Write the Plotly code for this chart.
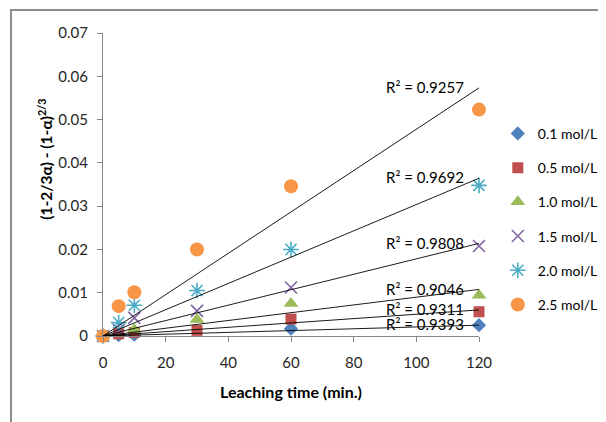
import numpy as np
import plotly.graph_objects as go

time_min = [0, 5, 10, 30, 60, 120]
series_names = ["0.1 mol/L", "0.5 mol/L", "1.0 mol/L", "1.5 mol/L", "2.0 mol/L", "2.5 mol/L"]
c01 = [0, 0.0002, 0.0003, -0.0003, 0.0017, 0.0025]
c05 = [0, 0.0005, 0.0008, 0.0013, 0.0039, 0.0056]
c10 = [0, -0.0002, 0.0015, 0.0038, 0.0075, 0.0094]
c15 = [0, 0.0014, 0.0042, 0.0058, 0.0112, 0.0208]
c20 = [0, 0.0031, 0.0071, 0.0105, 0.0200, 0.0348]
c25 = [0, 0.0069, 0.0101, 0.0200, 0.0346, 0.0523]
r2_labels = ["0.9393", "0.9311", "0.9046", "0.9808", "0.9692", "0.9257"]

all_series = [c01, c05, c10, c15, c20, c25]

styles = [
    dict(symbol="diamond", size=11, color="#4F81BD"),
    dict(symbol="square", size=11, color="#C0504D"),
    dict(symbol="triangle-up", size=13, color="#9BBB59"),
    dict(symbol="x-thin-open", size=12, color="#8064A2", line=dict(color="#8064A2", width=1.6)),
    dict(symbol="asterisk-open", size=13, color="#4BACC6", line=dict(color="#4BACC6", width=1.6)),
    dict(symbol="circle", size=14, color="#F79646"),
]

FONT = "Lato"
fig = go.Figure()
x = np.array(time_min, dtype=float)
for i, (name, ys, st) in enumerate(zip(series_names, all_series, styles)):
    fig.add_trace(go.Scatter(
        x=time_min, y=ys, mode="markers", name=name, marker=st,
        cliponaxis=False, legendgroup=f"g{i}",
    ))

annotations = []
for i, ys in enumerate(all_series):
    y = np.array(ys, dtype=float)
    slope = float((x * y).sum() / (x * x).sum())
    fig.add_trace(go.Scatter(
        x=[0, 120], y=[0, slope * 120], mode="lines",
        line=dict(color="#000000", width=0.9), showlegend=False,
        hoverinfo="skip", cliponaxis=False,
    ))
    annotations.append(dict(
        x=116, y=slope * 120 + 0.0002, xref="x", yref="y",
        text=f"R² = {r2_labels[i]}", showarrow=False,
        xanchor="right", yanchor="middle",
        font=dict(family=FONT, size=15, color="#000000"),
    ))

annotations.append(dict(
    x=-0.155, y=0.584, xref="paper", yref="paper", textangle=-90,
    text="<b>(1-2/3α) - (1-α)<sup>2/3</sup></b>", showarrow=False,
    xanchor="center", yanchor="middle",
    font=dict(family=FONT, size=15.5, color="#000000"),
))
annotations.append(dict(
    x=0.4995, y=-0.184, xref="paper", yref="paper",
    text="<b>Leaching time (min.)</b>", showarrow=False,
    xanchor="center", yanchor="middle",
    font=dict(family=FONT, size=16, color="#000000"),
))

fig.update_layout(
    width=606, height=422, autosize=False,
    margin=dict(l=95, r=135, t=25, b=94, autoexpand=False),
    paper_bgcolor="white", plot_bgcolor="white",
    font=dict(family=FONT, size=15, color="#262626"),
    annotations=annotations,
    legend=dict(x=1.05, xanchor="left", y=0.72, yanchor="top",
                font=dict(family=FONT, size=14, color="#000000"),
                tracegroupgap=13, itemwidth=30, bgcolor="rgba(0,0,0,0)"),
    shapes=[dict(type="rect", xref="paper", yref="paper",
                 x0=-0.2447, x1=2, y0=-1, y1=1.0759,
                 line=dict(color="#8C8C8C", width=2), fillcolor="rgba(0,0,0,0)")],
    xaxis=dict(range=[0, 120], dtick=20, showgrid=False, zeroline=False,
               showline=True, linecolor="#868686", linewidth=1,
               ticks="outside", ticklen=5, tickcolor="#868686",
               ticklabelstandoff=8,
               tickfont=dict(family=FONT, size=15, color="#262626")),
    yaxis=dict(range=[0, 0.07], dtick=0.01, showgrid=False, zeroline=False,
               showline=True, linecolor="#868686", linewidth=1,
               ticks="outside", ticklen=5, tickcolor="#868686",
               ticklabelstandoff=6,
               tickfont=dict(family=FONT, size=15, color="#262626")),
)

fig.write_html("out.html")
